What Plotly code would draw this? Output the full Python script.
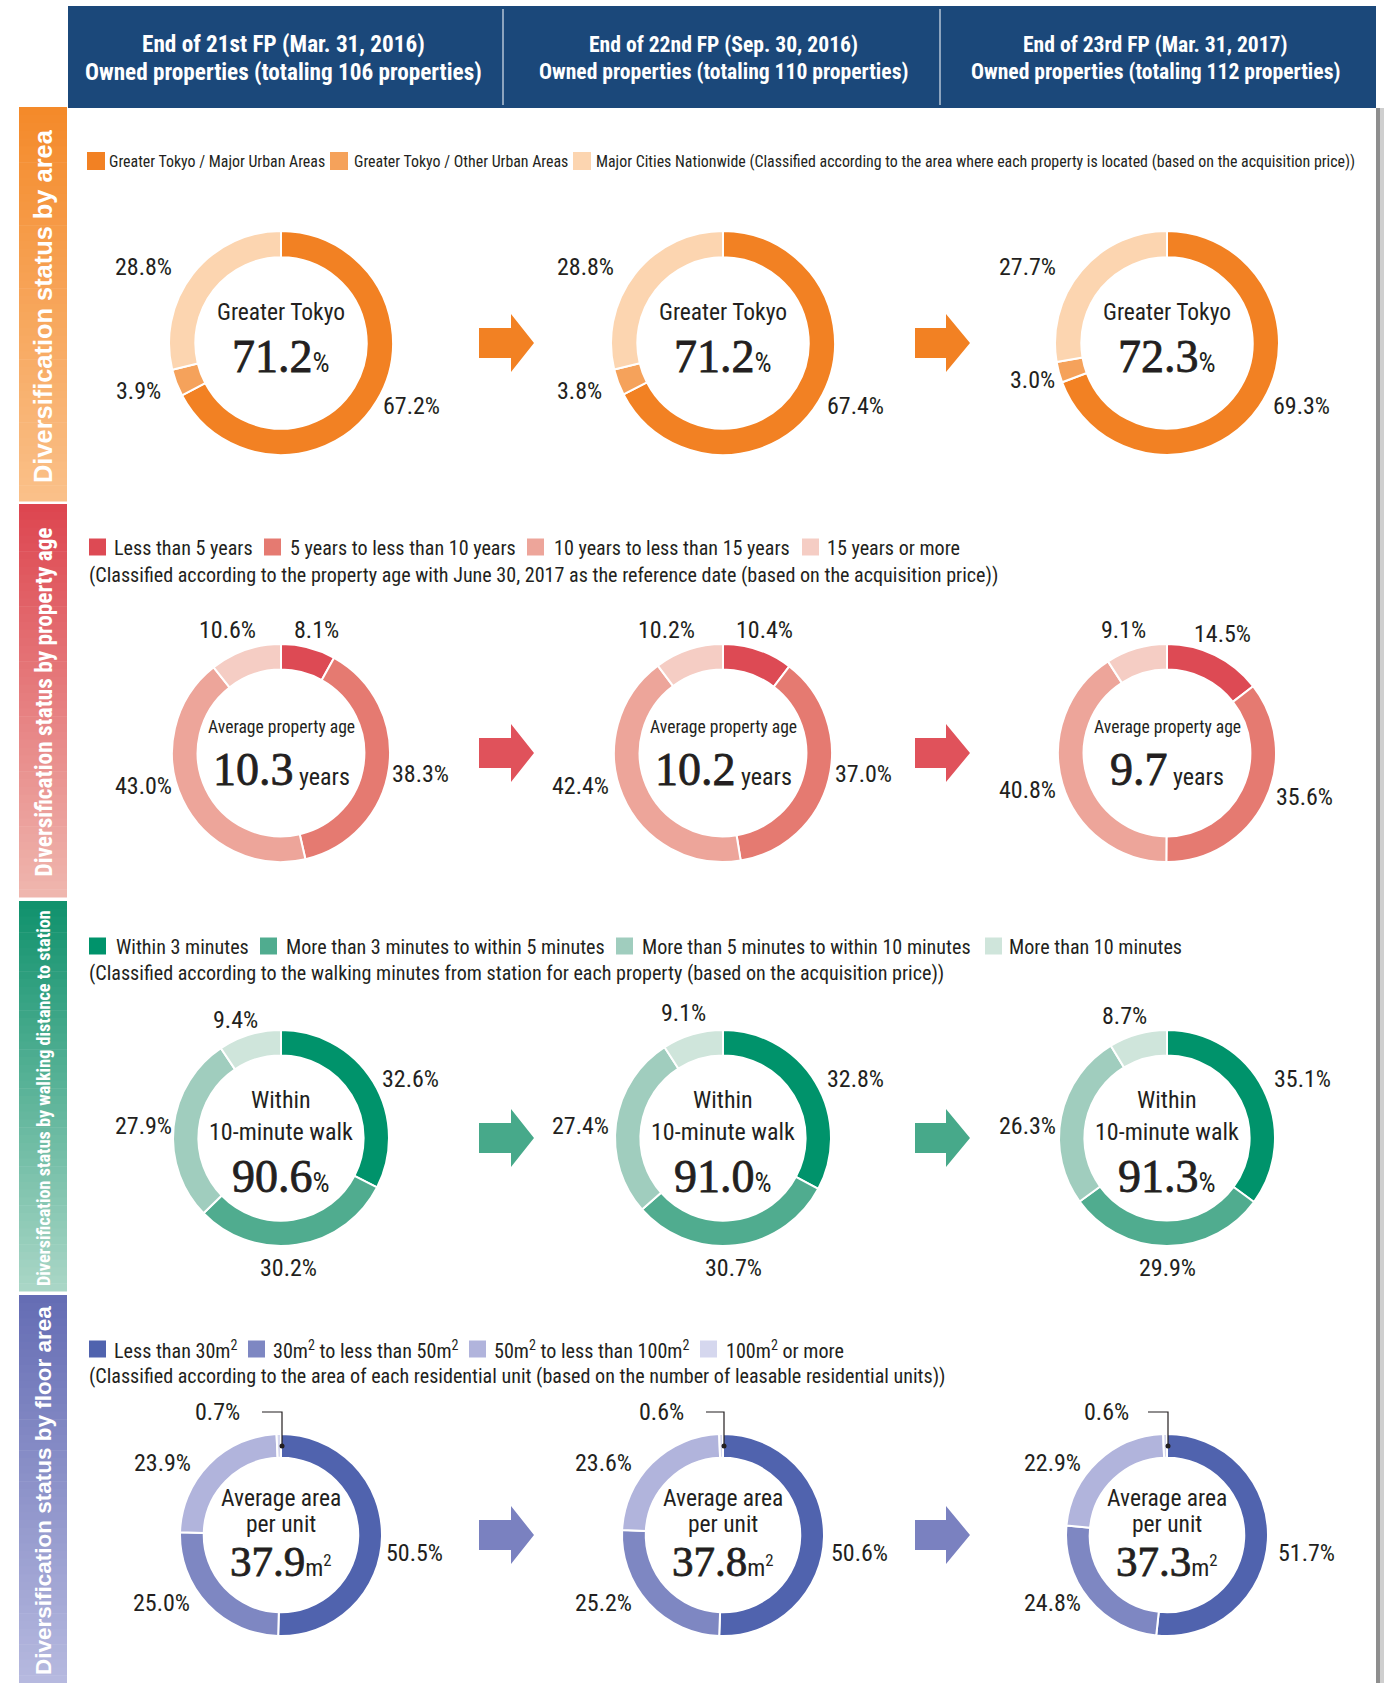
import plotly.graph_objects as go

W, H = 1394, 1683

# ---- data ----
periods_line1 = ["End of 21st FP (Mar. 31, 2016)", "End of 22nd FP (Sep. 30, 2016)", "End of 23rd FP (Mar. 31, 2017)"]
periods_line2 = ["Owned properties (totaling 106 properties)", "Owned properties (totaling 110 properties)",
                 "Owned properties (totaling 112 properties)"]

section_titles = ["Diversification status by area", "Diversification status by property age",
                  "Diversification status by walking distance to station", "Diversification status by floor area"]

area_labels = ["Greater Tokyo / Major Urban Areas", "Greater Tokyo / Other Urban Areas", "Major Cities Nationwide"]
area_note = "(Classified according to the area where each property is located (based on the acquisition price))"
area_values = [[67.2, 3.9, 28.8], [67.4, 3.8, 28.8], [69.3, 3.0, 27.7]]
area_center = ["71.2", "71.2", "72.3"]

age_labels = ["Less than 5 years", "5 years to less than 10 years", "10 years to less than 15 years", "15 years or more"]
age_note = "(Classified according to the property age with June 30, 2017 as the reference date (based on the acquisition price))"
age_values = [[8.1, 38.3, 43.0, 10.6], [10.4, 37.0, 42.4, 10.2], [14.5, 35.6, 40.8, 9.1]]
age_center = ["10.3", "10.2", "9.7"]

walk_labels = ["Within 3 minutes", "More than 3 minutes to within 5 minutes",
               "More than 5 minutes to within 10 minutes", "More than 10 minutes"]
walk_note = "(Classified according to the walking minutes from station for each property (based on the acquisition price))"
walk_values = [[32.6, 30.2, 27.9, 9.4], [32.8, 30.7, 27.4, 9.1], [35.1, 29.9, 26.3, 8.7]]
walk_center = ["90.6", "91.0", "91.3"]

floor_labels = ["Less than 30m<sup>2</sup>", "30m<sup>2</sup> to less than 50m<sup>2</sup>",
                "50m<sup>2</sup> to less than 100m<sup>2</sup>", "100m<sup>2</sup> or more"]
floor_note = "(Classified according to the area of each residential unit (based on the number of leasable residential units))"
floor_values = [[50.5, 25.0, 23.9, 0.7], [50.6, 25.2, 23.6, 0.6], [51.7, 24.8, 22.9, 0.6]]
floor_center = ["37.9", "37.8", "37.3"]

# ---- styles / layout ----
NARROW = "Roboto Condensed, DejaVu Sans Condensed, sans-serif"
SANS = "Liberation Sans, Arial, sans-serif"
TXT = "#231F20"

COLS = [281, 723, 1167]
ROW_Y = [343, 753, 1138, 1535]
RADII = [112, 109, 108, 101]
HOLE = 0.765

slice_colors = [
    ["#F28123", "#F5A25B", "#FCD5B0"],
    ["#DD4A54", "#E57A71", "#EDA59A", "#F5CDC4"],
    ["#00936B", "#50AC8F", "#A0CDBE", "#CFE5DB"],
    ["#5063AE", "#7E87C2", "#B1B4DC", "#D5D7EE"],
]
arrow_colors = ["#F28123", "#E0525B", "#47A98A", "#7A81C0"]
bar_grad = [("#F48A2A", "#FAC089"), ("#DD4650", "#EFB6AE"), ("#11926D", "#A9D6C6"), ("#656DB4", "#B6B9DF")]
bar_y = [(107, 501), (504, 897), (901, 1291), (1295, 1683)]
title_size = [25.4, 23.3, 18.2, 22.5]
title_font = [SANS, NARROW, NARROW, SANS]

label_xy = [
    [[(411, 405), (138, 390), (143, 266)],
     [(855, 405), (579, 390), (585, 266)],
     [(1301, 405), (1032, 379), (1027, 266)]],
    [[(316, 629), (420, 773), (143, 785), (227, 629)],
     [(764, 629), (863, 773), (580, 785), (666, 629)],
     [(1222, 633), (1304, 796), (1027, 789), (1123, 629)]],
    [[(410, 1078), (288, 1267), (143, 1125), (235, 1019)],
     [(856, 1078), (733, 1267), (580, 1125), (683, 1012)],
     [(1302, 1078), (1167, 1267), (1027, 1125), (1124, 1015)]],
    [[(414, 1552), (161, 1602), (162, 1462), (218, 1411)],
     [(859, 1552), (603, 1602), (603, 1462), (661, 1411)],
     [(1306, 1552), (1052, 1602), (1052, 1462), (1106, 1411)]],
]

legend_y = [161, 547, 946, 1349]
legend_sq_x = [[87, 330, 573], [89, 264, 527, 802], [89, 260, 616, 985], [89, 248, 469, 700]]
legend_txt_x = [[107, 352, 594], [112, 288, 552, 825], [114, 284, 640, 1007], [112, 271, 492, 724]]
legend_size = [15.9, 20.1, 20.1, 20.1]
note_y = [None, 575, 973, 1376]
LBL = 24


def px(x):
    return x / W


def py(y):
    return 1 - y / H


def hex_mix(c1, c2, t):
    a = [int(c1[i:i + 2], 16) for i in (1, 3, 5)]
    b = [int(c2[i:i + 2], 16) for i in (1, 3, 5)]
    return "#" + "".join(f"{round(a[k] + (b[k] - a[k]) * t):02x}" for k in range(3))


shapes = []
annots = []


def rect(x0, y0, x1, y1, color, layer="below"):
    shapes.append(dict(type="rect", xref="paper", yref="paper", x0=px(x0), x1=px(x1), y0=py(y1), y1=py(y0),
                       fillcolor=color, line=dict(width=0), layer=layer))


def text(x, y, s, size, family=NARROW, color=TXT, xanchor="center", angle=0, weight="normal"):
    annots.append(dict(xref="paper", yref="paper", x=px(x), y=py(y), text=s, showarrow=False,
                       xanchor=xanchor, yanchor="middle", textangle=angle,
                       font=dict(family=family, size=size, color=color, weight=weight)))


fig = go.Figure()

# header
rect(68, 6, 1376, 108, "#1B487A")
for xd in (503, 940):
    shapes.append(dict(type="line", xref="paper", yref="paper", x0=px(xd), x1=px(xd), y0=py(9), y1=py(105),
                       line=dict(color="#B4C3D6", width=1.5)))
hx = [283, 723, 1155]
for i in range(3):
    fs = 23.2 if i == 0 else 21.6
    text(hx[i], 44, periods_line1[i], fs, color="white", weight="bold")
    text(hx[i], 72, periods_line2[i], fs, color="white", weight="bold")

# right shadow edge
rect(1376, 108, 1380, H, "#8e8e8e")
rect(1380, 108, 1384, H, "#cfcfcf")

# side bars with vertical gradient
N = 50
for s, (y0, y1) in enumerate(bar_y):
    step = (y1 - y0) / N
    for k in range(N):
        rect(19, y0 + k * step, 67, y0 + (k + 1) * step + 0.6, hex_mix(bar_grad[s][0], bar_grad[s][1], k / (N - 1)))
    text(43, (y0 + y1) / 2 + 2, section_titles[s], title_size[s], family=title_font[s], color="white",
         angle=-90, weight="bold")

sections = [
    (area_values, area_center, area_labels),
    (age_values, age_center, age_labels),
    (walk_values, walk_center, walk_labels),
    (floor_values, floor_center, floor_labels),
]

for r, (vals, centers, labels) in enumerate(sections):
    cy, rad = ROW_Y[r], RADII[r]
    for c in range(3):
        cx = COLS[c]
        fig.add_trace(go.Pie(
            values=vals[c], labels=labels, sort=False, direction="clockwise", rotation=0,
            hole=HOLE, textinfo="none", hoverinfo="skip", showlegend=False,
            marker=dict(colors=slice_colors[r], line=dict(color="white", width=2)),
            domain=dict(x=[px(cx - rad), px(cx + rad)], y=[py(cy + rad), py(cy - rad)]),
        ))
        for k, v in enumerate(vals[c]):
            lx, ly = label_xy[r][c][k]
            text(lx, ly + 1, f"{v:.1f}%", LBL)

        big = (f'<span style="font-family:Liberation Serif, serif;font-size:{43 if r == 3 else 46}px;'
               f'stroke:{TXT};stroke-width:0.8px">{centers[c]}</span>')
        if r == 0:
            text(cx, 312, "Greater Tokyo", 23.5)
            text(cx, 356, big + '<span style="font-size:27px">%</span>', 27)
        elif r == 1:
            text(cx, 727, "Average property age", 17.6)
            text(cx, 770, big + '<span style="font-size:24px"> years</span>', 24)
        elif r == 2:
            text(cx, 1100, "Within", 24)
            text(cx, 1132, "10-minute walk", 24)
            text(cx, 1176, big + '<span style="font-size:27px">%</span>', 27)
        else:
            text(cx, 1498, "Average area", 23.5)
            text(cx, 1524, "per unit", 23.5)
            text(cx, 1561, big + '<span style="font-size:24px">m<sup>2</sup></span>', 24)

    # arrows between periods
    for x0, xm, xt in ((479, 511, 534), (915, 946, 970)):
        path = (f"M {px(x0)} {py(cy - 15)} L {px(xm)} {py(cy - 15)} L {px(xm)} {py(cy - 29)} "
                f"L {px(xt)} {py(cy)} L {px(xm)} {py(cy + 29)} L {px(xm)} {py(cy + 15)} "
                f"L {px(x0)} {py(cy + 15)} Z")
        shapes.append(dict(type="path", xref="paper", yref="paper", path=path,
                           fillcolor=arrow_colors[r], line=dict(width=0)))

    # legend row
    ly = legend_y[r]
    for k, lab in enumerate(labels):
        sq = 18 if r == 0 else 17
        rect(legend_sq_x[r][k], ly - sq / 2, legend_sq_x[r][k] + sq, ly + sq / 2, slice_colors[r][k], layer="above")
        s = lab + " " + area_note if (r == 0 and k == 2) else lab
        text(legend_txt_x[r][k], ly + 1, s, legend_size[r], xanchor="left")

text(87, note_y[1], age_note, 20.1, xanchor="left")
text(87, note_y[2], walk_note, 20.1, xanchor="left")
text(87, note_y[3], floor_note, 20.1, xanchor="left")

# leader lines for the thin floor-area slice
for c, lx0 in enumerate((262, 706, 1148)):
    cx = COLS[c] + 1
    shapes.append(dict(type="path", xref="paper", yref="paper",
                       path=f"M {px(lx0)} {py(1412)} L {px(cx)} {py(1412)} L {px(cx)} {py(1446)}",
                       line=dict(color="#231F20", width=1.2)))
    shapes.append(dict(type="circle", xref="paper", yref="paper", x0=px(cx - 2.5), x1=px(cx + 2.5),
                       y0=py(1448.5), y1=py(1443.5), fillcolor="#231F20", line=dict(width=0)))

fig.update_layout(
    width=W, height=H, autosize=False,
    margin=dict(l=0, r=0, t=0, b=0),
    paper_bgcolor="white", plot_bgcolor="white",
    shapes=shapes, annotations=annots,
    xaxis=dict(visible=False), yaxis=dict(visible=False),
)

fig.write_html("out.html", config={"displayModeBar": False},
               post_script="document.body.style.margin='0';")
